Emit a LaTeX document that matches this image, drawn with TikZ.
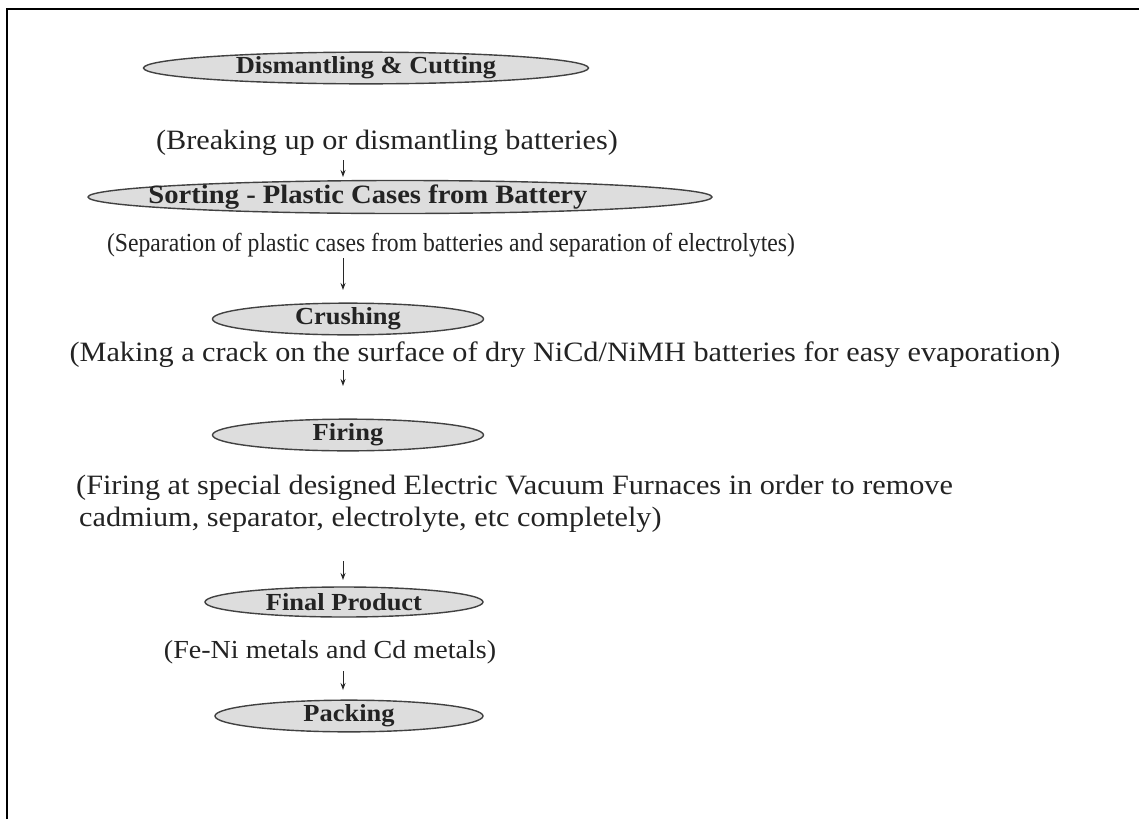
\documentclass[tikz,border=0pt]{standalone}
\usepackage{fontspec}
\setmainfont{Liberation Serif}[FakeStretch=1.08]
\usetikzlibrary{positioning,arrows.meta,shapes.geometric}
\definecolor{ovalFill}{RGB}{221,221,221}
\definecolor{ovalLine}{RGB}{65,65,65}
\definecolor{arrowGray}{RGB}{40,40,40}
\definecolor{textGray}{RGB}{35,35,35}

\begin{document}
\begin{tikzpicture}[x=1pt,y=-1pt,
  stage/.style={ellipse,draw=ovalLine,fill=ovalFill,line width=1.4pt,inner sep=0pt,minimum height=28pt,
    font=\fontsize{24.5}{28}\selectfont\bfseries,text=textGray},
  note/.style={inner sep=0pt,font=\fontsize{28}{32}\selectfont,text=textGray},
  flow/.style={-{Stealth[length=7pt,width=5pt]},arrowGray,line width=0.9pt}]
\useasboundingbox (0,0) rectangle (1139,819);
\fill[white] (0,0) rectangle (1139,819);
% frame
\draw[line width=2.5pt] (7,819) -- (7,9) -- (1139,9);
% dismantling
\node[stage,minimum width=445pt] (dismantle) at (366,68) {Dismantling \& Cutting};
\node[note,anchor=base] (breakup) at (387,149) {(Breaking up or dismantling batteries)};
\coordinate (a1s) at (343,160);
\coordinate (a1e) at (343,177);
\draw[flow] (a1s) -- (a1e);
% sorting (label sits left of the oval centre)
\node[stage,minimum width=624pt,minimum height=33pt] (sorting) at (400,197) {};
\node[inner sep=0pt,font=\fontsize{26.5}{30}\selectfont\bfseries,text=textGray] (sortlabel) at (368,197) {Sorting - Plastic Cases from Battery};
\node[note,anchor=base,font=\fontsize{26}{30}\selectfont\addfontfeature{FakeStretch=0.91}] (separate) at (451,251) {(Separation of plastic cases from batteries and separation of electrolytes)};
\coordinate (a2s) at (343,258);
\coordinate (a2e) at (343,290);
\draw[flow] (a2s) -- (a2e);
% crushing
\node[stage,minimum width=271pt] (crushing) at (348,319) {Crushing};
\node[note,anchor=base] (crack) at (565,361) {(Making a crack on the surface of dry NiCd/NiMH batteries for easy evaporation)};
\coordinate (a3s) at (343,370);
\coordinate (a3e) at (343,386);
\draw[flow] (a3s) -- (a3e);
% firing
\node[stage,minimum width=271pt] (firing) at (348,435) {Firing};
\node[note,anchor=base west] (furnace1) at (76,494) {(Firing at special designed Electric Vacuum Furnaces in order to remove};
\node[note,anchor=base west] (furnace2) at (79,526) {cadmium, separator, electrolyte, etc completely)};
\coordinate (a4s) at (343,561);
\coordinate (a4e) at (343,580);
\draw[flow] (a4s) -- (a4e);
% final product
\node[stage,minimum width=278pt,minimum height=30pt] (product) at (344,602) {Final Product};
\node[note,anchor=base,font=\fontsize{26}{30}\selectfont] (metals) at (330,658) {(Fe-Ni metals and Cd metals)};
\coordinate (a5s) at (343,671);
\coordinate (a5e) at (343,690);
\draw[flow] (a5s) -- (a5e);
% packing
\node[stage,minimum width=268pt,minimum height=30pt] (packing) at (349,716) {Packing};
\end{tikzpicture}
\end{document}
